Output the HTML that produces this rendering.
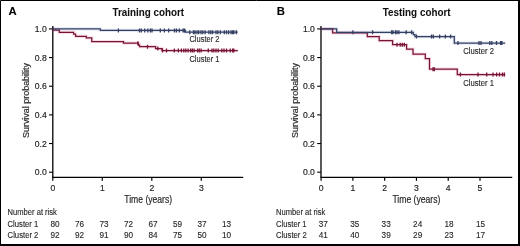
<!DOCTYPE html>
<html><head><meta charset="utf-8"><style>
html,body{margin:0;padding:0;background:#fff;}
body{width:520px;height:246px;overflow:hidden;}
svg{display:block;will-change:transform;}
text{font-family:"Liberation Sans",sans-serif;fill:#262626;stroke:#262626;stroke-width:0.18px;}
.pl{font-size:11.3px;font-weight:bold;fill:#000;stroke-width:0.1px;}
.ti{font-size:10.4px;font-weight:bold;fill:#111;stroke-width:0.05px;}
.tk{font-size:8.6px;}
.yl{font-size:9px;}
.xl{font-size:10.2px;}
.nr{font-size:8.4px;stroke-width:0.12px;}
.nm{font-size:8.2px;stroke-width:0.12px;}
</style></head><body>
<svg width="520" height="246" viewBox="0 0 520 246">
<rect x="0" y="0" width="520" height="246" fill="#fff"/>
<path d="M52.8,26 V177.3" stroke="#000" stroke-width="1.3" fill="none"/><path d="M49.0,172.20 H52.8" stroke="#000" stroke-width="1.1"/><text x="46.699999999999996" y="175.30" class="tk" text-anchor="end">0.0</text><path d="M49.0,143.54 H52.8" stroke="#000" stroke-width="1.1"/><text x="46.699999999999996" y="146.64" class="tk" text-anchor="end">0.2</text><path d="M49.0,114.88 H52.8" stroke="#000" stroke-width="1.1"/><text x="46.699999999999996" y="117.98" class="tk" text-anchor="end">0.4</text><path d="M49.0,86.22 H52.8" stroke="#000" stroke-width="1.1"/><text x="46.699999999999996" y="89.32" class="tk" text-anchor="end">0.6</text><path d="M49.0,57.56 H52.8" stroke="#000" stroke-width="1.1"/><text x="46.699999999999996" y="60.66" class="tk" text-anchor="end">0.8</text><path d="M49.0,28.90 H52.8" stroke="#000" stroke-width="1.1"/><text x="46.699999999999996" y="32.00" class="tk" text-anchor="end">1.0</text><path d="M52.15,177.3 H243.2" stroke="#000" stroke-width="1.3" fill="none"/><path d="M52.80,177.3 V180.8" stroke="#000" stroke-width="1.2"/><text x="52.80" y="191.1" class="tk" text-anchor="middle">0</text><path d="M102.30,177.3 V180.8" stroke="#000" stroke-width="1.2"/><text x="102.30" y="191.1" class="tk" text-anchor="middle">1</text><path d="M151.80,177.3 V180.8" stroke="#000" stroke-width="1.2"/><text x="151.80" y="191.1" class="tk" text-anchor="middle">2</text><path d="M201.30,177.3 V180.8" stroke="#000" stroke-width="1.2"/><text x="201.30" y="191.1" class="tk" text-anchor="middle">3</text><path d="M321.0,26 V177.3" stroke="#000" stroke-width="1.3" fill="none"/><path d="M317.2,172.20 H321.0" stroke="#000" stroke-width="1.1"/><text x="314.9" y="175.30" class="tk" text-anchor="end">0.0</text><path d="M317.2,143.54 H321.0" stroke="#000" stroke-width="1.1"/><text x="314.9" y="146.64" class="tk" text-anchor="end">0.2</text><path d="M317.2,114.88 H321.0" stroke="#000" stroke-width="1.1"/><text x="314.9" y="117.98" class="tk" text-anchor="end">0.4</text><path d="M317.2,86.22 H321.0" stroke="#000" stroke-width="1.1"/><text x="314.9" y="89.32" class="tk" text-anchor="end">0.6</text><path d="M317.2,57.56 H321.0" stroke="#000" stroke-width="1.1"/><text x="314.9" y="60.66" class="tk" text-anchor="end">0.8</text><path d="M317.2,28.90 H321.0" stroke="#000" stroke-width="1.1"/><text x="314.9" y="32.00" class="tk" text-anchor="end">1.0</text><path d="M320.35,177.3 H512.2" stroke="#000" stroke-width="1.3" fill="none"/><path d="M321.10,177.3 V180.8" stroke="#000" stroke-width="1.2"/><text x="321.10" y="191.1" class="tk" text-anchor="middle">0</text><path d="M352.88,177.3 V180.8" stroke="#000" stroke-width="1.2"/><text x="352.88" y="191.1" class="tk" text-anchor="middle">1</text><path d="M384.66,177.3 V180.8" stroke="#000" stroke-width="1.2"/><text x="384.66" y="191.1" class="tk" text-anchor="middle">2</text><path d="M416.44,177.3 V180.8" stroke="#000" stroke-width="1.2"/><text x="416.44" y="191.1" class="tk" text-anchor="middle">3</text><path d="M448.22,177.3 V180.8" stroke="#000" stroke-width="1.2"/><text x="448.22" y="191.1" class="tk" text-anchor="middle">4</text><path d="M480.00,177.3 V180.8" stroke="#000" stroke-width="1.2"/><text x="480.00" y="191.1" class="tk" text-anchor="middle">5</text><path d="M52.60,28.90H53.30V30.10H59.30V32.30H73.60V34.20H75.60V36.30H86.30V37.80H91.80V41.50H123.50V43.20H138.50V45.00H139.60V46.70H155.60V48.50H162.00V50.50H237.80" fill="none" stroke="rgba(220,40,100,0.16)" stroke-width="3.2" stroke-linejoin="miter"/><path d="M52.60,28.90H53.30V30.10H59.30V32.30H73.60V34.20H75.60V36.30H86.30V37.80H91.80V41.50H123.50V43.20H138.50V45.00H139.60V46.70H155.60V48.50H162.00V50.50H237.80" fill="none" stroke="#781434" stroke-width="1.25" stroke-linejoin="miter" stroke-linecap="butt"/><path d="M137.90,41.20V45.20M147.50,44.70V48.70M157.80,46.50V50.50M162.50,48.50V52.50M166.50,48.50V52.50M174.30,48.50V52.50M178.40,48.50V52.50M181.40,48.50V52.50M183.80,48.50V52.50M185.80,48.50V52.50M188.10,48.50V52.50M190.70,48.50V52.50M192.40,48.50V52.50M194.10,48.50V52.50M197.60,48.50V52.50M199.30,48.50V52.50M201.10,48.50V52.50M208.30,48.50V52.50M212.00,48.50V52.50M213.80,48.50V52.50M216.00,48.50V52.50M218.20,48.50V52.50M221.80,48.50V52.50M224.00,48.50V52.50M226.50,48.50V52.50M230.20,48.50V52.50M232.60,48.50V52.50M233.80,48.50V52.50" fill="none" stroke="#781434" stroke-width="1.3"/><path d="M52.60,28.90H100.30V30.40H185.30V32.20H237.80" fill="none" stroke="rgba(70,100,170,0.16)" stroke-width="3.2" stroke-linejoin="miter"/><path d="M52.60,28.90H100.30V30.40H185.30V32.20H237.80" fill="none" stroke="#343f62" stroke-width="1.25" stroke-linejoin="miter" stroke-linecap="butt"/><path d="M118.40,28.40V32.40M139.50,28.40V32.40M141.30,28.40V32.40M144.70,28.40V32.40M147.80,28.40V32.40M150.40,28.40V32.40M152.00,28.40V32.40M160.30,28.40V32.40M164.40,28.40V32.40M168.70,28.40V32.40M174.50,28.40V32.40M176.50,28.40V32.40M179.40,28.40V32.40M183.10,28.40V32.40M184.50,28.40V32.40M189.80,30.20V34.20M193.50,30.20V34.20M195.00,30.20V34.20M197.00,30.20V34.20M198.70,30.20V34.20M201.00,30.20V34.20M202.80,30.20V34.20M205.10,30.20V34.20M208.90,30.20V34.20M210.80,30.20V34.20M212.60,30.20V34.20M216.00,30.20V34.20M217.80,30.20V34.20M220.30,30.20V34.20M224.30,30.20V34.20M226.50,30.20V34.20M228.60,30.20V34.20M231.10,30.20V34.20M232.60,30.20V34.20M233.80,30.20V34.20M236.30,30.20V34.20" fill="none" stroke="#343f62" stroke-width="1.3"/><path d="M321.00,28.90H332.60V32.80H367.30V36.60H379.20V40.70H392.60V44.70H406.60V49.20H413.00V54.10H425.30V58.60H429.50V69.20H457.30V74.60H505.20" fill="none" stroke="rgba(220,40,100,0.16)" stroke-width="3.2" stroke-linejoin="miter"/><path d="M321.00,28.90H332.60V32.80H367.30V36.60H379.20V40.70H392.60V44.70H406.60V49.20H413.00V54.10H425.30V58.60H429.50V69.20H457.30V74.60H505.20" fill="none" stroke="#781434" stroke-width="1.25" stroke-linejoin="miter" stroke-linecap="butt"/><path d="M397.00,42.70V46.70M400.20,42.70V46.70M402.30,42.70V46.70M404.30,42.70V46.70M433.00,67.20V71.20M434.40,67.20V71.20M460.40,72.60V76.60M478.00,72.60V76.60M486.70,72.60V76.60M493.00,72.60V76.60M496.60,72.60V76.60M499.50,72.60V76.60M502.50,72.60V76.60M504.40,72.60V76.60" fill="none" stroke="#781434" stroke-width="1.3"/><path d="M321.00,28.90H336.70V32.30H413.30V34.50H415.00V36.60H454.30V43.10H505.20" fill="none" stroke="rgba(70,100,170,0.16)" stroke-width="3.2" stroke-linejoin="miter"/><path d="M321.00,28.90H336.70V32.30H413.30V34.50H415.00V36.60H454.30V43.10H505.20" fill="none" stroke="#343f62" stroke-width="1.25" stroke-linejoin="miter" stroke-linecap="butt"/><path d="M352.90,30.30V34.30M372.60,30.30V34.30M391.60,30.30V34.30M393.00,30.30V34.30M395.50,30.30V34.30M397.00,30.30V34.30M398.90,30.30V34.30M406.20,30.30V34.30M411.60,30.30V34.30M416.50,34.60V38.60M431.50,34.60V38.60M433.30,34.60V38.60M439.60,34.60V38.60M445.40,34.60V38.60M450.60,34.60V38.60M458.00,41.10V45.10M479.00,41.10V45.10M481.00,41.10V45.10M489.80,41.10V45.10M491.80,41.10V45.10M496.50,41.10V45.10M500.60,41.10V45.10M501.90,41.10V45.10" fill="none" stroke="#343f62" stroke-width="1.3"/>
<text x="8.5" y="14.7" class="pl">A</text><text x="276.8" y="15.0" class="pl">B</text><text x="148.3" y="15.5" class="ti" text-anchor="middle" textLength="71.5" lengthAdjust="spacingAndGlyphs">Training cohort</text><text x="416.7" y="15.5" class="ti" text-anchor="middle" textLength="67.8" lengthAdjust="spacingAndGlyphs">Testing cohort</text><text transform="translate(29.3,100.5) rotate(-90)" class="yl" text-anchor="middle" textLength="75" lengthAdjust="spacingAndGlyphs">Survival probability</text><text transform="translate(297.7,100.5) rotate(-90)" class="yl" text-anchor="middle" textLength="75" lengthAdjust="spacingAndGlyphs">Survival probability</text><text x="148.2" y="202.7" class="xl" text-anchor="middle" textLength="47.8" lengthAdjust="spacingAndGlyphs">Time (years)</text><text x="416.4" y="202.7" class="xl" text-anchor="middle" textLength="48" lengthAdjust="spacingAndGlyphs">Time (years)</text><text x="7.6" y="214.9" class="nr" textLength="49.3" lengthAdjust="spacingAndGlyphs">Number at risk</text><text x="7.6" y="226.8" class="nr" textLength="30.6" lengthAdjust="spacingAndGlyphs">Cluster 1</text><text x="7.6" y="237.6" class="nr" textLength="30.8" lengthAdjust="spacingAndGlyphs">Cluster 2</text><text x="276.0" y="214.9" class="nr" textLength="49.3" lengthAdjust="spacingAndGlyphs">Number at risk</text><text x="276.0" y="226.8" class="nr" textLength="30.6" lengthAdjust="spacingAndGlyphs">Cluster 1</text><text x="276.0" y="237.6" class="nr" textLength="30.8" lengthAdjust="spacingAndGlyphs">Cluster 2</text><text x="55.10" y="226.8" class="nm" text-anchor="middle">80</text><text x="55.10" y="237.5" class="nm" text-anchor="middle">92</text><text x="79.60" y="226.8" class="nm" text-anchor="middle">76</text><text x="79.60" y="237.5" class="nm" text-anchor="middle">92</text><text x="104.10" y="226.8" class="nm" text-anchor="middle">73</text><text x="104.10" y="237.5" class="nm" text-anchor="middle">91</text><text x="128.60" y="226.8" class="nm" text-anchor="middle">72</text><text x="128.60" y="237.5" class="nm" text-anchor="middle">90</text><text x="153.10" y="226.8" class="nm" text-anchor="middle">67</text><text x="153.10" y="237.5" class="nm" text-anchor="middle">84</text><text x="177.60" y="226.8" class="nm" text-anchor="middle">59</text><text x="177.60" y="237.5" class="nm" text-anchor="middle">75</text><text x="202.10" y="226.8" class="nm" text-anchor="middle">37</text><text x="202.10" y="237.5" class="nm" text-anchor="middle">50</text><text x="226.60" y="226.8" class="nm" text-anchor="middle">13</text><text x="226.60" y="237.5" class="nm" text-anchor="middle">10</text><text x="323.20" y="226.8" class="nm" text-anchor="middle">37</text><text x="323.20" y="237.5" class="nm" text-anchor="middle">41</text><text x="354.68" y="226.8" class="nm" text-anchor="middle">35</text><text x="354.68" y="237.5" class="nm" text-anchor="middle">40</text><text x="386.16" y="226.8" class="nm" text-anchor="middle">33</text><text x="386.16" y="237.5" class="nm" text-anchor="middle">39</text><text x="417.64" y="226.8" class="nm" text-anchor="middle">24</text><text x="417.64" y="237.5" class="nm" text-anchor="middle">29</text><text x="449.12" y="226.8" class="nm" text-anchor="middle">18</text><text x="449.12" y="237.5" class="nm" text-anchor="middle">23</text><text x="480.60" y="226.8" class="nm" text-anchor="middle">15</text><text x="480.60" y="237.5" class="nm" text-anchor="middle">17</text><text x="189.4" y="42.2" class="nr" textLength="30" lengthAdjust="spacingAndGlyphs">Cluster 2</text><text x="189.4" y="61.9" class="nr" textLength="30" lengthAdjust="spacingAndGlyphs">Cluster 1</text><text x="463.2" y="53.9" class="nr" textLength="30.8" lengthAdjust="spacingAndGlyphs">Cluster 2</text><text x="463.2" y="86.1" class="nr" textLength="30.8" lengthAdjust="spacingAndGlyphs">Cluster 1</text>
<path d="M0.5,0.5 H518.9 V244.9 H0.5 Z" fill="none" stroke="#000" stroke-width="1"/>
<rect x="518" y="0" width="2" height="246" fill="#000"/>
<rect x="0" y="244" width="520" height="2" fill="#000"/>
</svg>
</body></html>
